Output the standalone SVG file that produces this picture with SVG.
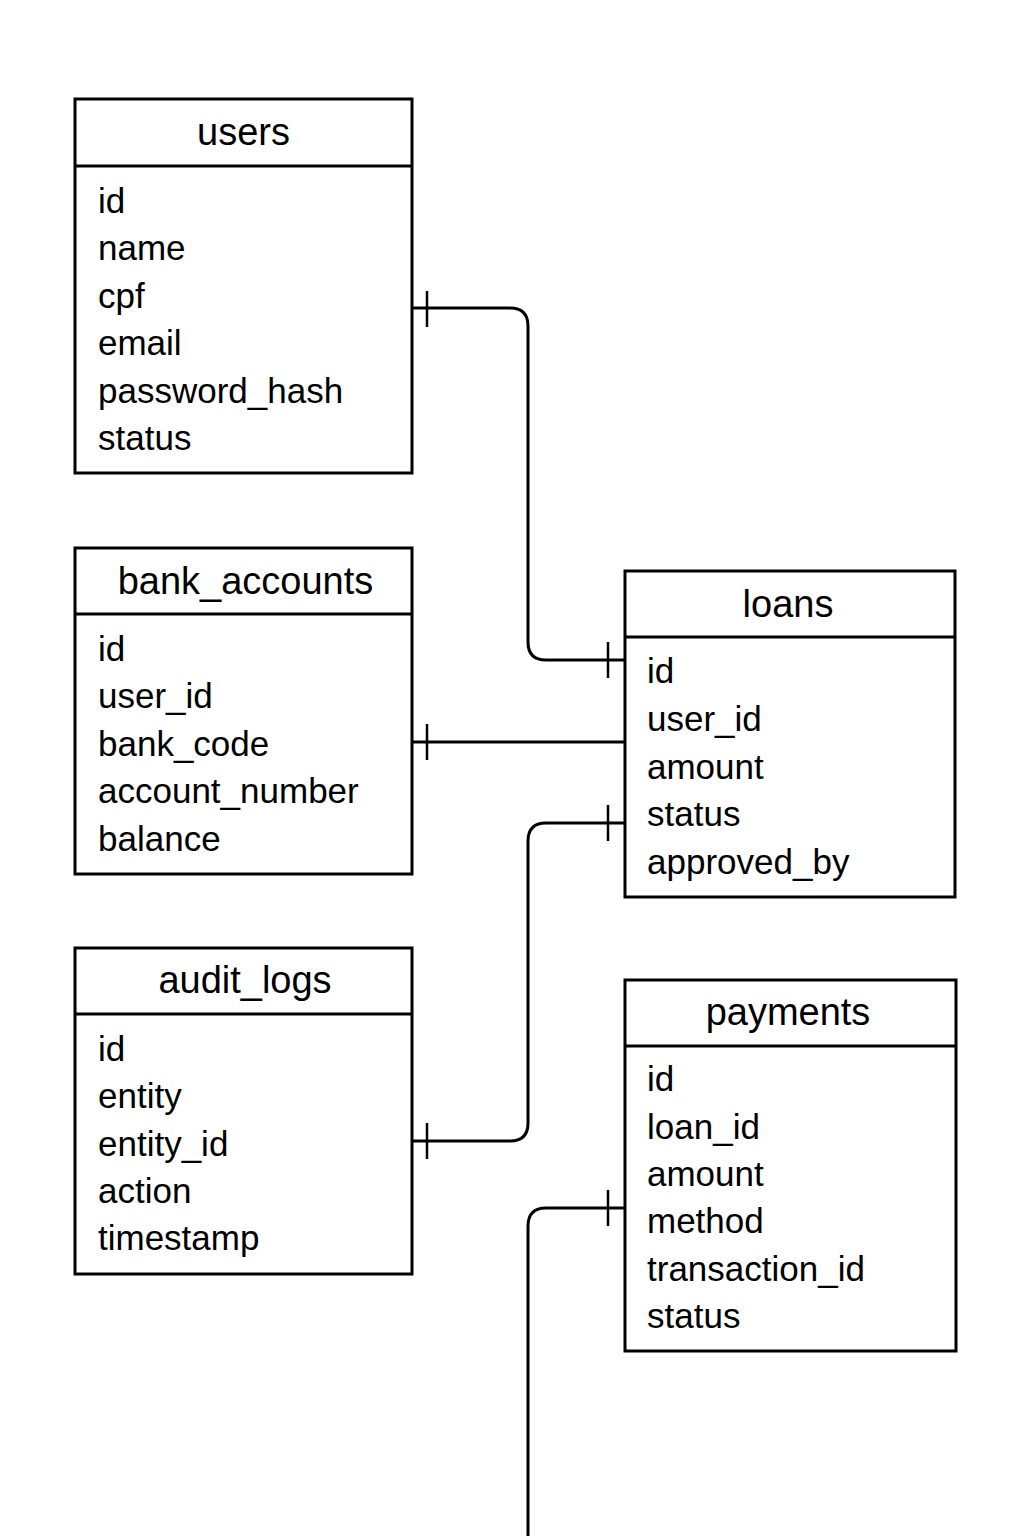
<svg xmlns="http://www.w3.org/2000/svg" width="1024" height="1536" viewBox="0 0 1024 1536">
<style>
.box{fill:#fff;stroke:#000;stroke-width:3}
.div{stroke:#000;stroke-width:3}
.title{font-family:"Liberation Sans",Arial,sans-serif;font-size:38px;fill:#000;text-anchor:middle}
.attr{font-family:"Liberation Sans",Arial,sans-serif;font-size:35px;fill:#000}
.conn{fill:none;stroke:#000;stroke-width:3}
.tick{stroke:#000;stroke-width:2.5}
</style>
<rect width="1024" height="1536" fill="#fff"/>
<g id="connectors">
<path class="conn" d="M412,308 H510 Q528,308 528,326 V642 Q528,660 546,660 H625"/>
<line class="tick" x1="427" y1="291" x2="427" y2="327"/>
<line class="tick" x1="608" y1="642" x2="608" y2="678"/>
<path class="conn" d="M412,742 H625"/>
<line class="tick" x1="427" y1="724" x2="427" y2="760"/>
<path class="conn" d="M412,1141 H510 Q528,1141 528,1123 V841 Q528,823 546,823 H625"/>
<line class="tick" x1="427" y1="1123" x2="427" y2="1159"/>
<line class="tick" x1="608" y1="805" x2="608" y2="841"/>
<path class="conn" d="M625,1208 H546 Q528,1208 528,1226 V1536"/>
<line class="tick" x1="608" y1="1190" x2="608" y2="1226"/>
</g>
<g id="users">
<rect class="box" x="75" y="99" width="337" height="374"/>
<line class="div" x1="75" y1="166" x2="412" y2="166"/>
<text class="title" x="243.5" y="145">users</text>
<text class="attr" x="98" y="213">id</text>
<text class="attr" x="98" y="260">name</text>
<text class="attr" x="98" y="308">cpf</text>
<text class="attr" x="98" y="355">email</text>
<text class="attr" x="98" y="403">password_hash</text>
<text class="attr" x="98" y="450">status</text>
</g>
<g id="bank_accounts">
<rect class="box" x="75" y="548" width="337" height="326"/>
<line class="div" x1="75" y1="614" x2="412" y2="614"/>
<text class="title" x="245.5" y="594">bank_accounts</text>
<text class="attr" x="98" y="661">id</text>
<text class="attr" x="98" y="708">user_id</text>
<text class="attr" x="98" y="756">bank_code</text>
<text class="attr" x="98" y="803">account_number</text>
<text class="attr" x="98" y="851">balance</text>
</g>
<g id="audit_logs">
<rect class="box" x="75" y="948" width="337" height="326"/>
<line class="div" x1="75" y1="1014" x2="412" y2="1014"/>
<text class="title" x="245" y="993">audit_logs</text>
<text class="attr" x="98" y="1061">id</text>
<text class="attr" x="98" y="1108">entity</text>
<text class="attr" x="98" y="1156">entity_id</text>
<text class="attr" x="98" y="1203">action</text>
<text class="attr" x="98" y="1250">timestamp</text>
</g>
<g id="loans">
<rect class="box" x="625" y="571" width="330" height="326"/>
<line class="div" x1="625" y1="637" x2="955" y2="637"/>
<text class="title" x="788" y="617">loans</text>
<text class="attr" x="647" y="683">id</text>
<text class="attr" x="647" y="731">user_id</text>
<text class="attr" x="647" y="779">amount</text>
<text class="attr" x="647" y="826">status</text>
<text class="attr" x="647" y="874">approved_by</text>
</g>
<g id="payments">
<rect class="box" x="625" y="980" width="331" height="371"/>
<line class="div" x1="625" y1="1046" x2="956" y2="1046"/>
<text class="title" x="788" y="1025">payments</text>
<text class="attr" x="647" y="1091">id</text>
<text class="attr" x="647" y="1139">loan_id</text>
<text class="attr" x="647" y="1186">amount</text>
<text class="attr" x="647" y="1233">method</text>
<text class="attr" x="647" y="1281">transaction_id</text>
<text class="attr" x="647" y="1328">status</text>
</g>
</svg>
